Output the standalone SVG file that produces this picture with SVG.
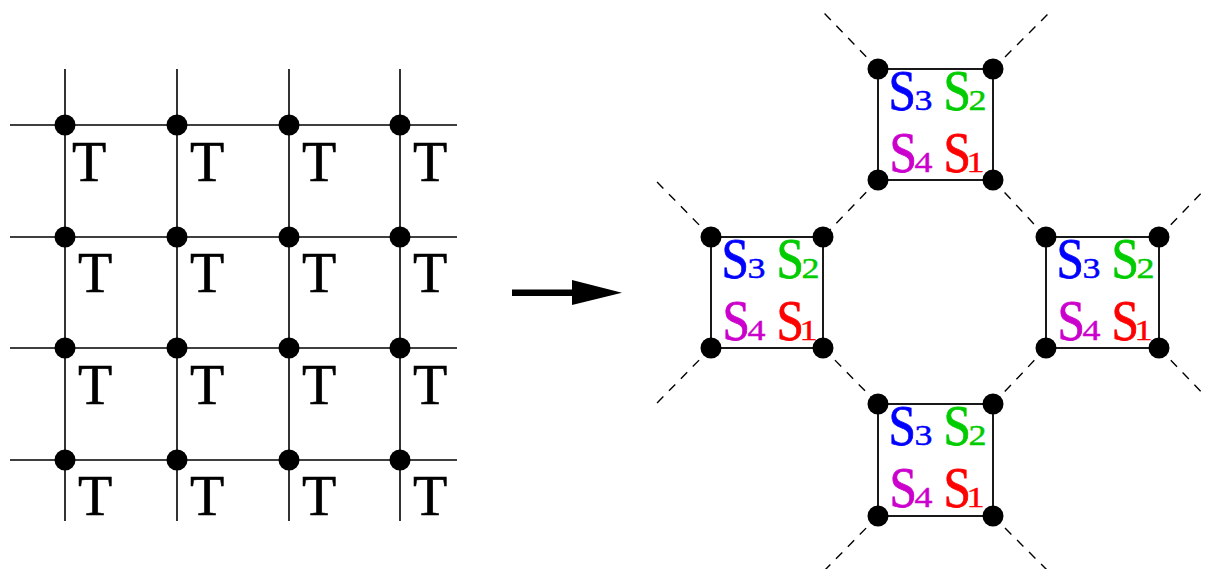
<svg xmlns="http://www.w3.org/2000/svg" width="1205" height="569" viewBox="0 0 1205 569">
<style>
.g{stroke:#000;stroke-width:1.6;fill:none}
.d{stroke:#000;stroke-width:1.4;stroke-dasharray:9,8;fill:none}
.b{stroke:#000;stroke-width:1.8;fill:none}
.t{font-family:"Liberation Serif",serif;font-size:56px;fill:#000;stroke:#000;stroke-width:0.6}
.s{font-family:"Liberation Serif",serif;font-size:56px;stroke-width:0.8}
.n{font-family:"Liberation Serif",serif;font-size:30px;stroke-width:0.4}
.c3{fill:#0000ff;stroke:#0000ff}.c2{fill:#00cc00;stroke:#00cc00}.c4{fill:#cc00cc;stroke:#cc00cc}.c1{fill:#ff0000;stroke:#ff0000}
</style>
<defs>
<circle id="dot" r="10.5" fill="#000"/>
<g id="lab">
<text class="s c3" transform="translate(10.5,41) scale(0.88,1)">S</text>
<text class="n c3" transform="translate(36.5,41) scale(1.2,1)">3</text>
<text class="s c2" transform="translate(65.5,41) scale(0.88,1)">S</text>
<text class="n c2" transform="translate(90.5,41) scale(1.2,1)">2</text>
<text class="s c4" transform="translate(11.5,103) scale(0.88,1)">S</text>
<text class="n c4" transform="translate(36.5,103) scale(1.2,1)">4</text>
<text class="s c1" transform="translate(65.5,103) scale(0.88,1)">S</text>
<text class="n c1" transform="translate(88.5,103) scale(1.2,1)">1</text>
</g>
</defs>
<g id="grid">
<path class="g" d="M65,69V521M177,69V521M289,69V521M400,69V521M10,125H457M10,237H457M10,348H457M10,460H457"/>
<g fill="#000">
<use href="#dot" x="65" y="125"/><use href="#dot" x="177" y="125"/><use href="#dot" x="289" y="125"/><use href="#dot" x="400" y="125"/>
<use href="#dot" x="65" y="237"/><use href="#dot" x="177" y="237"/><use href="#dot" x="289" y="237"/><use href="#dot" x="400" y="237"/>
<use href="#dot" x="65" y="348"/><use href="#dot" x="177" y="348"/><use href="#dot" x="289" y="348"/><use href="#dot" x="400" y="348"/>
<use href="#dot" x="65" y="460"/><use href="#dot" x="177" y="460"/><use href="#dot" x="289" y="460"/><use href="#dot" x="400" y="460"/>
</g>
<g class="t" text-anchor="middle">
<text x="89" y="181">T</text><text x="207" y="181">T</text><text x="319" y="181">T</text><text x="430" y="181">T</text>
<text x="95" y="292">T</text><text x="207" y="292">T</text><text x="319" y="292">T</text><text x="430" y="292">T</text>
<text x="95" y="404">T</text><text x="207" y="404">T</text><text x="319" y="404">T</text><text x="430" y="404">T</text>
<text x="95" y="515">T</text><text x="207" y="515">T</text><text x="319" y="515">T</text><text x="430" y="515">T</text>
</g>
</g>
<g id="arrow">
<rect x="512" y="289.5" width="62" height="6.5" fill="#000"/>
<polygon points="572,280 622,292.7 572,305" fill="#000"/>
</g>
<g id="connectors">
<path class="d" d="M878,69L824,13M993,69L1049,13"/>
<path class="d" d="M878,180L823,237M993,180L1046,237"/>
<path class="d" d="M711,237L657,182M711,348L657,403"/>
<path class="d" d="M1159,237L1212,182M1159,348L1212,403"/>
<path class="d" d="M823,348L878,404M1046,348L993,404"/>
<path class="d" d="M878,516L823,572M993,516L1049,572"/>
</g>
<g id="square-top" transform="translate(878,69)">
<rect class="b" x="0" y="0" width="115" height="111"/>
<use href="#lab"/>
<use href="#dot" x="0" y="0"/><use href="#dot" x="115" y="0"/><use href="#dot" x="0" y="111"/><use href="#dot" x="115" y="111"/>
</g>
<g id="square-left" transform="translate(711,237)">
<rect class="b" x="0" y="0" width="112" height="111"/>
<use href="#lab"/>
<use href="#dot" x="0" y="0"/><use href="#dot" x="112" y="0"/><use href="#dot" x="0" y="111"/><use href="#dot" x="112" y="111"/>
</g>
<g id="square-right" transform="translate(1046,237)">
<rect class="b" x="0" y="0" width="113" height="111"/>
<use href="#lab"/>
<use href="#dot" x="0" y="0"/><use href="#dot" x="113" y="0"/><use href="#dot" x="0" y="111"/><use href="#dot" x="113" y="111"/>
</g>
<g id="square-bottom" transform="translate(878,404)">
<rect class="b" x="0" y="0" width="115" height="112"/>
<use href="#lab"/>
<use href="#dot" x="0" y="0"/><use href="#dot" x="115" y="0"/><use href="#dot" x="0" y="112"/><use href="#dot" x="115" y="112"/>
</g>
</svg>
